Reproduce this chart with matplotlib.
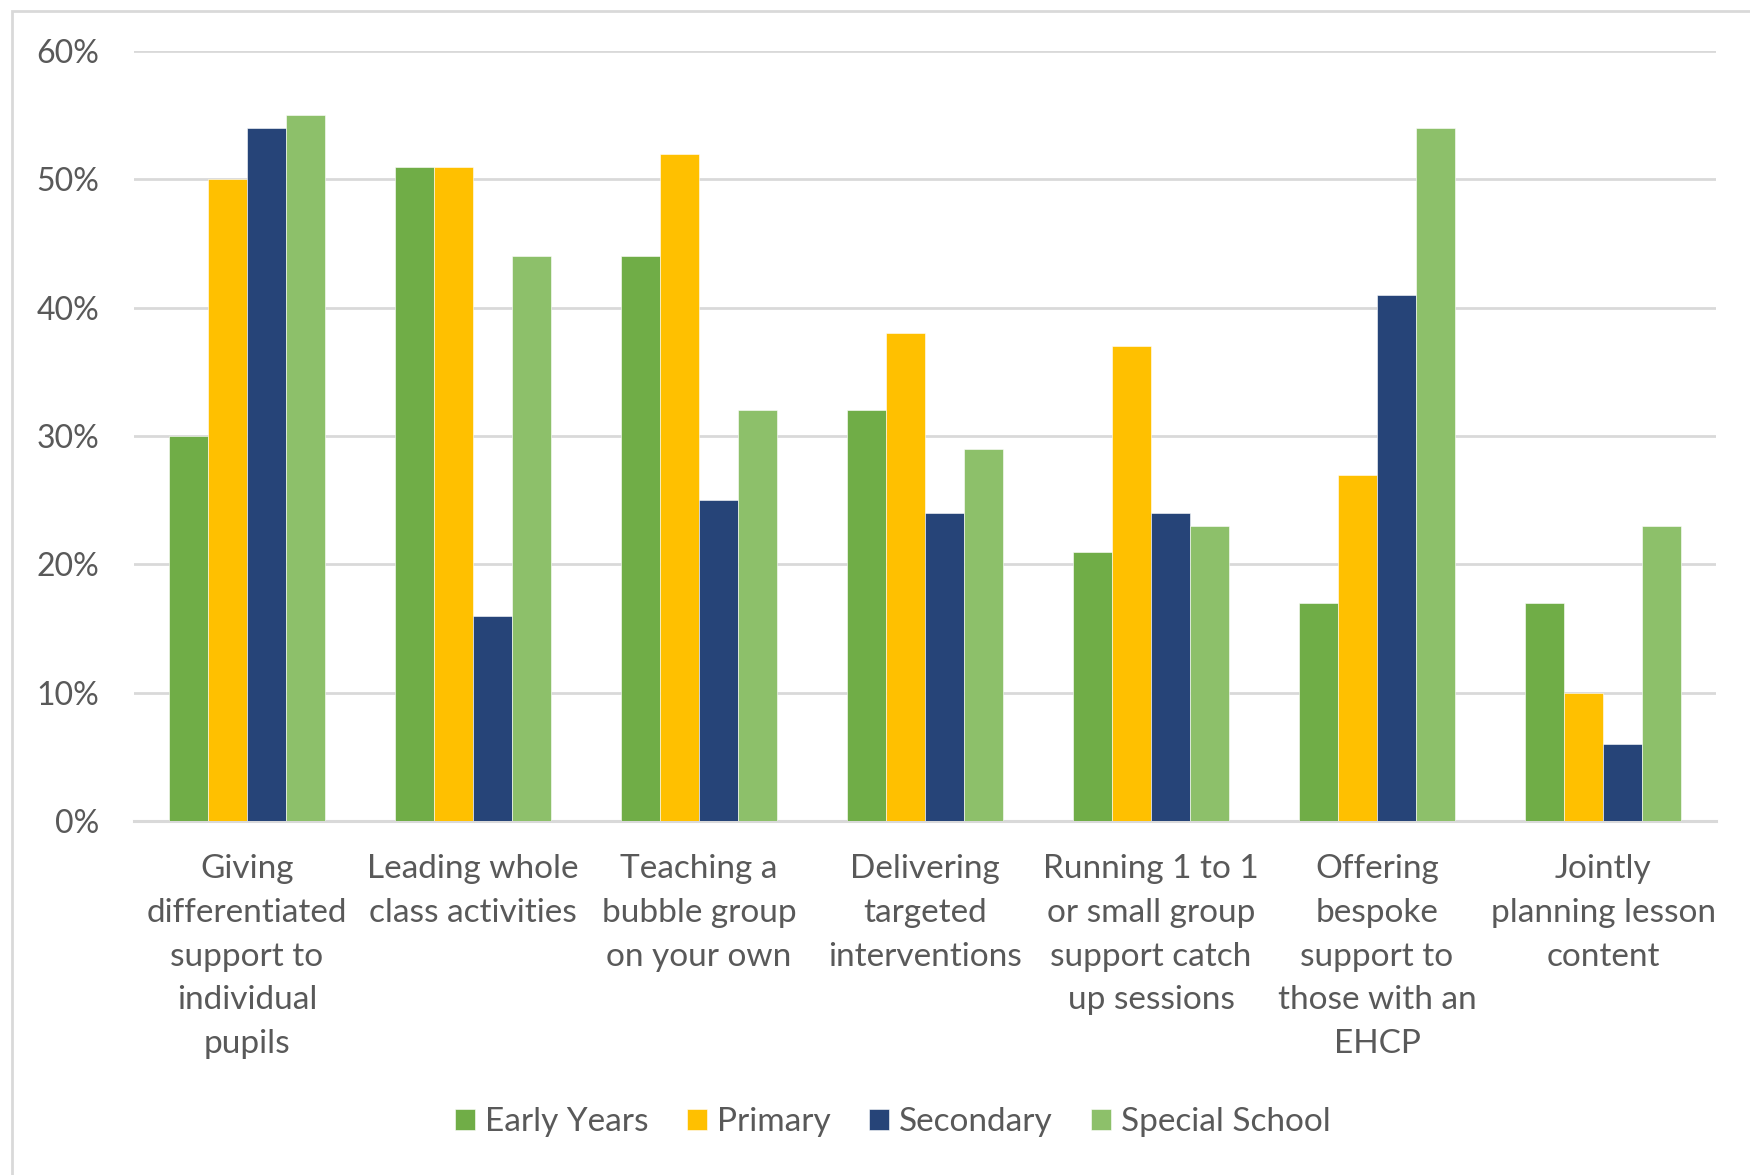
import matplotlib
matplotlib.use('Agg')
import matplotlib.pyplot as plt
import numpy as np
from matplotlib.patches import Rectangle

categories = [
    "Giving\ndifferentiated\nsupport to\nindividual\npupils",
    "Leading whole\nclass activities",
    "Teaching a\nbubble group\non your own",
    "Delivering\ntargeted\ninterventions",
    "Running 1 to 1\nor small group\nsupport catch\nup sessions",
    "Offering\nbespoke\nsupport to\nthose with an\nEHCP",
    "Jointly\nplanning lesson\ncontent",
]
series_names = ["Early Years", "Primary", "Secondary", "Special School"]
early_years = [30, 51, 44, 32, 21, 17, 17]
primary = [50, 51, 52, 38, 37, 27, 10]
secondary = [54, 16, 25, 24, 24, 41, 6]
special_school = [55, 44, 32, 29, 23, 54, 23]
y_ticks = [0, 10, 20, 30, 40, 50, 60]

colors = ['#70AD47', '#FFC000', '#264478', '#8DC06A']
text_color = '#595959'
grid_color = '#D9D9D9'

plt.rcParams['font.family'] = ['Lato', 'DejaVu Sans']

fig = plt.figure(figsize=(17.5, 11.75), dpi=100)
ax = fig.add_axes([134/1750, 1 - 821/1175, (1716-134)/1750, (821-51)/1175])

# outer chart border (clipped at right and bottom like the source)
fig.patches.append(Rectangle((12/1750, -0.1), 1.2, 1.1 - 11/1175,
                             transform=fig.transFigure, fill=False,
                             edgecolor=grid_color, linewidth=2, zorder=0))

x = np.arange(len(categories))
w = 0.172
all_series = [early_years, primary, secondary, special_school]
for i, (vals, name) in enumerate(zip(all_series, series_names)):
    ax.bar(x + (i - 1.5) * w, np.array(vals) / 100, width=w, color=colors[i],
           label=name, zorder=3, edgecolor='white', linewidth=0.4)

ax.set_xlim(-0.5, len(categories) - 0.5)
ax.set_ylim(0, 0.6)
ax.set_yticks([t / 100 for t in y_ticks])
ax.set_yticklabels([f"{t}%" for t in y_ticks])
ax.yaxis.grid(True, color=grid_color, linewidth=2, zorder=0)
ax.set_axisbelow(True)
for s in ['top', 'right', 'left']:
    ax.spines[s].set_visible(False)
ax.spines['bottom'].set_color(grid_color)
ax.spines['bottom'].set_linewidth(2.2)

ax.set_xticks(x)
ax.set_xticklabels(categories, linespacing=1.57, fontsize=24)
ax.tick_params(axis='both', length=0, colors=text_color)
ax.tick_params(axis='x', pad=24)
ax.tick_params(axis='y', pad=25, labelsize=23)

fig.legend(loc='center', bbox_to_anchor=(893/1750, 1 - 1122/1175), ncol=4,
           frameon=False, fontsize=24, labelcolor=text_color,
           handlelength=0.6, handleheight=0.6, handletextpad=0.3,
           columnspacing=1.15)

fig.savefig('out.png', dpi=100)
